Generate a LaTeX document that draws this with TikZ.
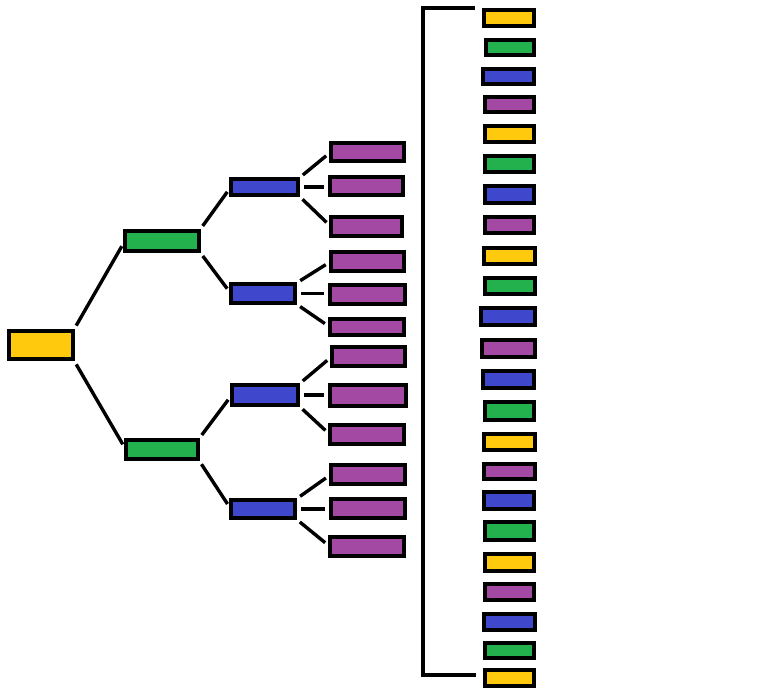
\documentclass[tikz,border=0pt]{standalone}
\definecolor{cyel}{HTML}{FFC90E}
\definecolor{cgrn}{HTML}{22B14C}
\definecolor{cblu}{HTML}{3F48CC}
\definecolor{cpur}{HTML}{A349A4}
\tikzset{
  box/.style={draw=black, line width=3.6pt, inner sep=0pt, outer sep=0pt, rectangle},
  edge/.style={draw=black, line width=3.4pt, shorten >=6pt, shorten <=6pt},
  bracket/.style={draw=black, line width=3.4pt}
}
\newcommand\bx[6]{\node[box, fill=#2, minimum width={#5-#3-3.6}, minimum height={#6-#4-3.6}] (#1) at ({(#3+#5)/2},{(#4+#6)/2}) {};}
\begin{document}
\begin{tikzpicture}[x=1pt,y=-1pt]
\useasboundingbox[fill=white] (0,0) rectangle (768,691);
% tree
\bx{root}{cyel}{7}{329}{75}{361}
\bx{g1}{cgrn}{123}{229}{201}{253}
\bx{g2}{cgrn}{124}{438}{200}{461}
\bx{b1}{cblu}{229}{177}{300}{197}
\bx{b2}{cblu}{229}{282}{297}{305}
\bx{b3}{cblu}{230}{383}{300}{407}
\bx{b4}{cblu}{229}{498}{297}{520}
\bx{p1}{cpur}{329}{141}{406}{163}
\bx{p2}{cpur}{328}{175}{405}{197}
\bx{p3}{cpur}{329}{215}{404}{238}
\bx{p4}{cpur}{329}{250}{406}{273}
\bx{p5}{cpur}{328}{283}{407}{306}
\bx{p6}{cpur}{328}{317}{406}{337}
\bx{p7}{cpur}{330}{345}{407}{368}
\bx{p8}{cpur}{328}{383}{408}{408}
\bx{p9}{cpur}{328}{423}{406}{446}
\bx{p10}{cpur}{329}{463}{407}{486}
\bx{p11}{cpur}{329}{497}{407}{520}
\bx{p12}{cpur}{328}{535}{406}{558}
\draw[edge] (root.north east) -- (g1.west);
\draw[edge] (root.south east) -- (g2.west);
\draw[edge] (g1.north east) -- (b1.west);
\draw[edge] (g1.south east) -- (b2.west);
\draw[edge] (g2.north east) -- (b3.west);
\draw[edge] (g2.south east) -- (b4.west);
\draw[edge] (b1.north east) -- (p1.west);
\draw[edge] (b1.east) -- (b1.east -| p2.west);
\draw[edge] (b1.south east) -- (p3.west);
\draw[edge] (b2.north east) -- (p4.west);
\draw[edge] (b2.east) -- (b2.east -| p5.west);
\draw[edge] (b2.south east) -- (p6.west);
\draw[edge] (b3.north east) -- (p7.west);
\draw[edge] (b3.east) -- (b3.east -| p8.west);
\draw[edge] (b3.south east) -- (p9.west);
\draw[edge] (b4.north east) -- (p10.west);
\draw[edge] (b4.east) -- (b4.east -| p11.west);
\draw[edge] (b4.south east) -- (p12.west);
% column
\bx{c1}{cyel}{482}{8}{536}{28}
\bx{c2}{cgrn}{484}{38}{536}{57}
\bx{c3}{cblu}{481}{67}{536}{86}
\bx{c4}{cpur}{483}{95}{536}{114}
\bx{c5}{cyel}{483}{124}{536}{144}
\bx{c6}{cgrn}{483}{154}{536}{174}
\bx{c7}{cblu}{483}{184}{536}{205}
\bx{c8}{cpur}{483}{215}{536}{235}
\bx{c9}{cyel}{482}{246}{537}{266}
\bx{c10}{cgrn}{483}{276}{537}{296}
\bx{c11}{cblu}{479}{306}{537}{327}
\bx{c12}{cpur}{480}{338}{537}{359}
\bx{c13}{cblu}{481}{369}{536}{390}
\bx{c14}{cgrn}{483}{400}{536}{422}
\bx{c15}{cyel}{482}{432}{537}{452}
\bx{c16}{cpur}{482}{462}{537}{481}
\bx{c17}{cblu}{482}{490}{536}{511}
\bx{c18}{cgrn}{483}{520}{536}{542}
\bx{c19}{cyel}{483}{552}{536}{573}
\bx{c20}{cpur}{483}{582}{536}{602}
\bx{c21}{cblu}{482}{612}{537}{632}
\bx{c22}{cgrn}{483}{641}{536}{660}
\bx{c23}{cyel}{483}{668}{536}{688}
% bracket
\coordinate (btr) at (475,8);
\coordinate (btl) at (423,8);
\coordinate (bbl) at (423,675);
\coordinate (bbr) at (476,675);
\draw[bracket] (btr) -- (btl) -- (bbl) -- (bbr);
\end{tikzpicture}
\end{document}
